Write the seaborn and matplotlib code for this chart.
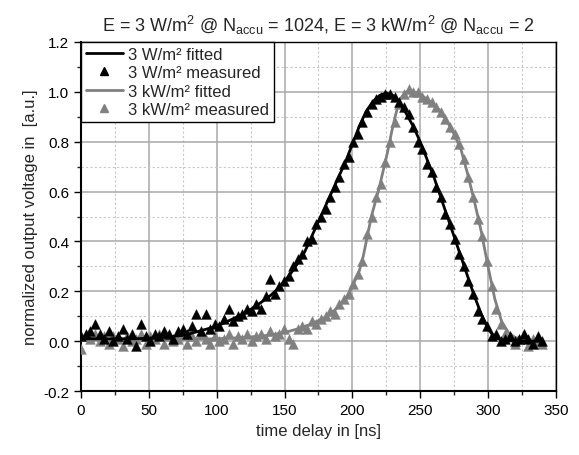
import numpy as np
import pandas as pd
import seaborn as sns
import matplotlib.pyplot as plt
from matplotlib.lines import Line2D
from matplotlib.ticker import MultipleLocator

# fitted curves (time in ns, normalized voltage)
fit_low_t = [0, 20, 40, 60, 70, 80, 90, 100, 110, 120, 130, 140, 145, 150, 155, 160, 165, 170,
             175, 180, 185, 190, 195, 200, 205, 210, 215, 220, 225, 230, 235, 240, 245, 250,
             255, 260, 265, 270, 275, 280, 285, 290, 295, 300, 305, 310, 320, 340]
fit_low_v = [0.01, 0.01, 0.01, 0.015, 0.02, 0.03, 0.045, 0.06, 0.085, 0.11, 0.145, 0.185, 0.21,
             0.24, 0.275, 0.315, 0.36, 0.42, 0.48, 0.54, 0.60, 0.66, 0.72, 0.79, 0.86, 0.92,
             0.96, 0.985, 0.995, 0.985, 0.955, 0.91, 0.86, 0.80, 0.73, 0.66, 0.58, 0.50, 0.42,
             0.34, 0.26, 0.18, 0.11, 0.05, 0.015, 0.005, 0.0, 0.0]

fit_high_t = [0, 50, 100, 120, 130, 140, 150, 160, 170, 180, 185, 190, 195, 200, 205, 208, 211,
              214, 217, 220, 223, 226, 229, 232, 235, 240, 245, 250, 255, 260, 265, 270, 275,
              280, 285, 290, 295, 300, 305, 310, 315, 320, 330, 340]
fit_high_v = [0.005, 0.005, 0.01, 0.015, 0.02, 0.025, 0.035, 0.05, 0.07, 0.095, 0.115, 0.14,
              0.17, 0.22, 0.28, 0.34, 0.42, 0.50, 0.56, 0.62, 0.69, 0.76, 0.84, 0.91, 0.97,
              1.0, 1.0, 0.99, 0.97, 0.95, 0.92, 0.88, 0.83, 0.77, 0.67, 0.56, 0.44, 0.30,
              0.17, 0.08, 0.035, 0.015, 0.005, 0.0]

# measured samples, one every 3.4 ns
meas_t = np.arange(101) * 3.4
meas_low = [0.02, 0.03, 0.04, 0.07, 0.03, 0.01, 0.04, 0.00, 0.02, 0.05,
            0.01, 0.03, -0.02, 0.07, 0.02, 0.00, 0.03, 0.02, 0.04, 0.03,
            0.01, 0.04, 0.05, 0.03, 0.06, 0.11, 0.04, 0.11, 0.05, 0.07,
            0.06, 0.09, 0.13, 0.08, 0.10, 0.11, 0.13, 0.12, 0.15, 0.13,
            0.18, 0.25, 0.19, 0.22, 0.24, 0.26, 0.30, 0.33, 0.35, 0.40,
            0.41, 0.47, 0.50, 0.53, 0.58, 0.62, 0.66, 0.71, 0.74, 0.80,
            0.83, 0.88, 0.92, 0.95, 0.97, 0.98, 0.99, 0.99, 0.98, 0.96,
            0.94, 0.91, 0.86, 0.80, 0.77, 0.71, 0.68, 0.62, 0.58, 0.51,
            0.47, 0.41, 0.35, 0.30, 0.24, 0.19, 0.12, 0.09, 0.06, 0.02,
            0.03, 0.00, 0.01, 0.02, 0.00, 0.01, 0.03, 0.01, -0.01, 0.02,
            0.00]
meas_high = [-0.03, 0.02, 0.01, 0.03, 0.00, 0.02, -0.01, 0.02, 0.01, -0.02,
             0.02, 0.00, 0.01, 0.03, -0.01, 0.02, 0.01, 0.03, -0.01, 0.02,
             0.00, 0.01, 0.03, -0.01, 0.02, 0.00, 0.03, 0.01, -0.01, 0.02,
             0.00, 0.01, 0.03, -0.01, 0.02, 0.01, 0.03, 0.00, 0.02, 0.03,
             0.01, 0.04, 0.02, 0.03, 0.05, 0.01, -0.01, 0.05, 0.06, 0.05,
             0.08, 0.07, 0.09, 0.10, 0.12, 0.11, 0.15, 0.17, 0.19, 0.23,
             0.27, 0.32, 0.43, 0.50, 0.58, 0.63, 0.72, 0.80, 0.88, 0.95,
             0.99, 1.01, 1.00, 1.00, 0.98, 0.97, 0.96, 0.94, 0.92, 0.89,
             0.86, 0.83, 0.79, 0.73, 0.66, 0.58, 0.49, 0.42, 0.32, 0.22,
             0.13, 0.07, 0.03, 0.02, -0.01, 0.01, 0.03, -0.02, 0.01, 0.00,
             -0.01]

GREY = '#808080'

sns.set_style('white')
plt.rcParams['font.family'] = ['Liberation Sans', 'DejaVu Sans']
plt.rcParams['mathtext.fontset'] = 'custom'
plt.rcParams['mathtext.rm'] = 'Liberation Sans'
plt.rcParams['mathtext.it'] = 'Liberation Sans'

fig = plt.figure(figsize=(5.79, 4.56), dpi=100)
ax = fig.add_axes([0.140, 0.140, 0.820, 0.766])

sns.scatterplot(x=meas_t, y=meas_high, ax=ax, marker='^', color=GREY, s=50,
                edgecolor=GREY, linewidth=0.3, zorder=3)
sns.lineplot(x=fit_high_t, y=fit_high_v, ax=ax, color=GREY, linewidth=2, zorder=4)
sns.scatterplot(x=meas_t, y=meas_low, ax=ax, marker='^', color='black', s=50,
                edgecolor='black', linewidth=0.3, zorder=5)
sns.lineplot(x=fit_low_t, y=fit_low_v, ax=ax, color='black', linewidth=2, zorder=6)

ax.set_xlim(0, 350)
ax.set_ylim(-0.2, 1.2)
ax.xaxis.set_major_locator(MultipleLocator(50))
ax.xaxis.set_minor_locator(MultipleLocator(25))
ax.yaxis.set_major_locator(MultipleLocator(0.2))
ax.yaxis.set_minor_locator(MultipleLocator(0.1))
ax.yaxis.set_major_formatter(plt.FuncFormatter(lambda v, p: f'{v:.1f}'))

ax.grid(True, which='major', color='#a8a8a8', linewidth=1.1, linestyle='-')
ax.grid(True, which='minor', color='#c8c8c8', linewidth=0.8, linestyle=(0, (2, 2)))
ax.set_axisbelow(True)

ax.tick_params(which='major', direction='out', length=5, width=1, labelsize=11,
               bottom=True, left=True, top=False, right=False, colors='black')
ax.tick_params(which='minor', direction='out', length=3, width=1,
               bottom=True, left=True, top=False, right=False)
for sp in ax.spines.values():
    sp.set_color('black')
    sp.set_linewidth(1)
ax.spines['left'].set_linewidth(1.5)
ax.spines['bottom'].set_linewidth(1.5)

ax.set_xlabel('time delay in [ns]', fontsize=12)
ax.set_ylabel('normalized output voltage in  [a.u.]', fontsize=12)
ax.set_title(r'E = 3 W/m$^2$ @ N$_{\rm accu}$ = 1024, E = 3 kW/m$^2$ @ N$_{\rm accu}$ = 2',
             fontsize=13, pad=8)

handles = [
    Line2D([], [], color='black', linewidth=2),
    Line2D([], [], color='black', marker='^', linestyle='none', markersize=6),
    Line2D([], [], color=GREY, linewidth=2),
    Line2D([], [], color=GREY, marker='^', linestyle='none', markersize=6),
]
labels = ['3 W/m² fitted', '3 W/m² measured', '3 kW/m² fitted', '3 kW/m² measured']
leg = ax.legend(handles, labels, loc='upper left', borderaxespad=0.0, fontsize=12,
                frameon=True, fancybox=False, edgecolor='black', framealpha=1,
                handlelength=2.2, handletextpad=0.3, labelspacing=0.2, borderpad=0.3)
leg.get_frame().set_linewidth(1)

fig.savefig('out.png', dpi=100)
